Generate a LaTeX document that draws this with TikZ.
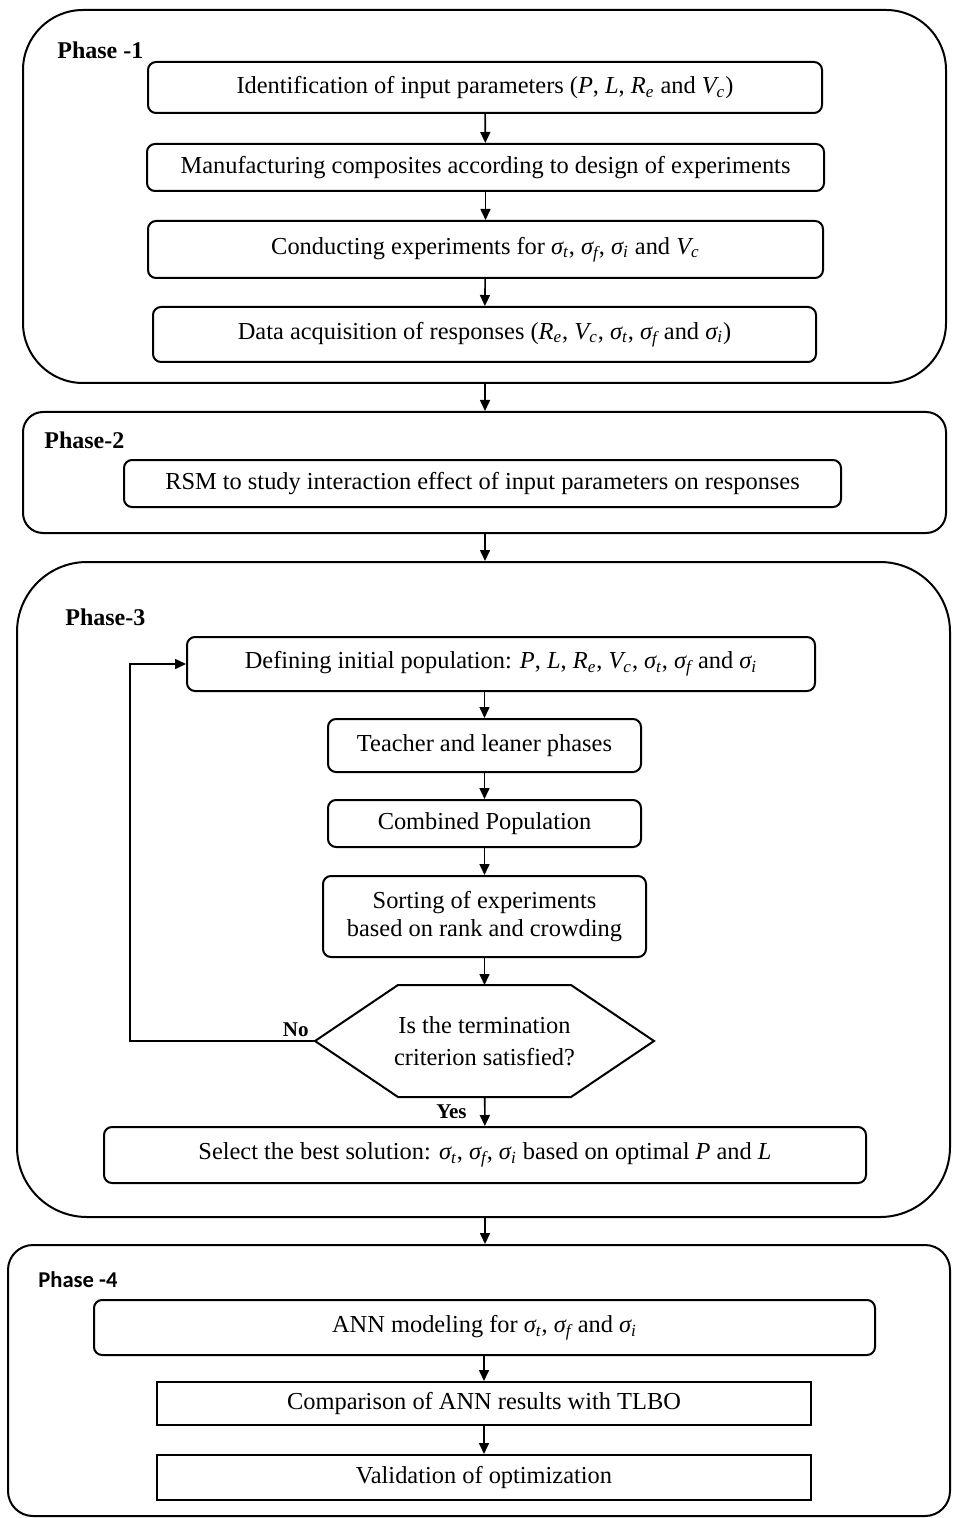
\documentclass[tikz,border=0pt]{standalone}
\usepackage{fontspec}
\setmainfont{Liberation Serif}
\newfontfamily\labelsans{Carlito}
\usetikzlibrary{arrows.meta,calc}

\newcommand{\sg}[1]{\textit{σ\textsubscript{#1}}}
\newcommand{\vr}[2]{\textit{#1\textsubscript{#2}}}

\tikzset{
  frame/.style={draw, line width=1pt, inner sep=0pt},
  proc/.style={draw, line width=1pt, rounded corners=4pt, inner sep=0pt, align=center,
    font=\fontsize{12.2}{14}\selectfont},
  plainbox/.style={proc, sharp corners},
  arr/.style={-{Triangle[length=5.5pt,width=5pt]}, line width=0.8pt},
  phaselab/.style={anchor=west, inner sep=0pt, font=\fontsize{12}{14}\selectfont\bfseries},
}

\begin{document}
\begin{tikzpicture}[x=0.5pt, y=-0.5pt]
\useasboundingbox (0,0) rectangle (954,1518);

% Phase 1
\node[frame, rounded corners=30pt, minimum width=461.5pt, minimum height=186.5pt] (ph1) at (484.5,196.5) {};
\node[phaselab] (lab1) at (57,50) {Phase -1};
\node[proc, minimum width=337pt, minimum height=25.5pt] (idpar) at (485,87.5)
  {Identification of input parameters (\textit{P}, \textit{L}, \vr{R}{e} and \vr{V}{c})};
\node[proc, minimum width=338.5pt, minimum height=23.5pt] (manuf) at (485.5,167.5)
  {Manufacturing composites according to design of experiments};
\node[proc, minimum width=337.5pt, minimum height=28.5pt] (condexp) at (485.5,249.5)
  {Conducting experiments for \sg{t}, \sg{f}, \sg{i} and \vr{V}{c}};
\node[proc, minimum width=331.5pt, minimum height=27.5pt] (dataacq) at (484.5,334.5)
  {Data acquisition of responses (\vr{R}{e}, \vr{V}{c}, \sg{t}, \sg{f} and \sg{i})};

% Phase 2
\node[frame, rounded corners=10pt, minimum width=461.5pt, minimum height=60.5pt] (ph2) at (484.5,472.5) {};
\node[phaselab] (lab2) at (44,440) {Phase-2};
\node[proc, minimum width=358.5pt, minimum height=23.5pt] (rsm) at (482.5,483.5)
  {RSM to study interaction effect of input parameters on responses};

% Phase 3
\node[frame, rounded corners=35pt, minimum width=466.5pt, minimum height=327.5pt] (ph3) at (483.5,889.5) {};
\node[phaselab] (lab3) at (65,617) {Phase-3};
\node[proc, minimum width=314pt, minimum height=27pt] (initpop) at (501,664)
  {Defining initial population: \textit{P}, \textit{L}, \vr{R}{e}, \vr{V}{c}, \sg{t}, \sg{f} and \sg{i}};
\node[proc, minimum width=156.5pt, minimum height=26.5pt] (teach) at (484.5,745.5)
  {Teacher and leaner phases};
\node[proc, minimum width=156.5pt, minimum height=23.5pt] (combpop) at (484.5,823.5)
  {Combined Population};
\node[proc, minimum width=161.5pt, minimum height=40.5pt] (sorting) at (484.5,916.5)
  {Sorting of experiments\\based on rank and crowding};
\node[proc, draw=none, minimum width=168.5pt, minimum height=55pt,
  font=\fontsize{12.2}{16}\selectfont] (term) at (484.5,1041)
  {Is the termination\\criterion satisfied?};
\draw[line width=1pt] (term.west) -- ($(term.north west)+(83,0)$) -- ($(term.north east)+(-83,0)$)
  -- (term.east) -- ($(term.south east)+(-83,0)$) -- ($(term.south west)+(83,0)$) -- cycle;
\node[proc, minimum width=381pt, minimum height=28pt] (best) at (485,1155)
  {Select the best solution: \sg{t}, \sg{f}, \sg{i} based on optimal \textit{P} and \textit{L}};
\coordinate (turn) at (130,1041);
\node[anchor=south east, inner sep=0pt, font=\fontsize{10.5}{12}\selectfont\bfseries] (nolab) at ($(term.west)+(-6,-4)$) {No};
\node[anchor=east, inner sep=0pt, font=\fontsize{10.5}{12}\selectfont\bfseries] (yeslab) at (467,1112) {Yes};

% Phase 4
\node[frame, rounded corners=12.5pt, minimum width=471pt, minimum height=135.5pt] (ph4) at (479,1380.5) {};
\node[phaselab, font=\labelsans\fontsize{11.3}{13}\selectfont\bfseries] (lab4) at (38,1280) {Phase -4};
\node[proc, minimum width=390.5pt, minimum height=27.5pt] (ann) at (484.5,1327.5)
  {ANN modeling for \sg{t}, \sg{f} and \sg{i}};
\node[plainbox, minimum width=327pt, minimum height=21.5pt] (compare) at (484,1403.5)
  {Comparison of ANN results with TLBO};
\node[plainbox, minimum width=327pt, minimum height=22.5pt] (valid) at (484,1477.5)
  {Validation of optimization};

% connectors
\draw[arr] (idpar) -- (manuf);
\draw[arr] (manuf) -- (condexp);
\draw[arr] (condexp) -- (dataacq);
\draw[arr] (ph1.south -| idpar) -- (ph2.north -| idpar);
\draw[arr] (ph2.south -| best) -- (ph3.north -| best);
\draw[arr] (initpop.south -| teach) -- (teach);
\draw[arr] (teach) -- (combpop);
\draw[arr] (combpop) -- (sorting);
\draw[arr] (sorting) -- (term);
\draw[arr] (term) -- (best);
\draw[arr] (term.west) -- (turn) |- (initpop.west);
\draw[arr] (ph3.south -| best) -- (ph4.north -| best);
\draw[arr] (ann.south -| compare) -- (compare);
\draw[arr] (compare) -- (valid);
\end{tikzpicture}
\end{document}
